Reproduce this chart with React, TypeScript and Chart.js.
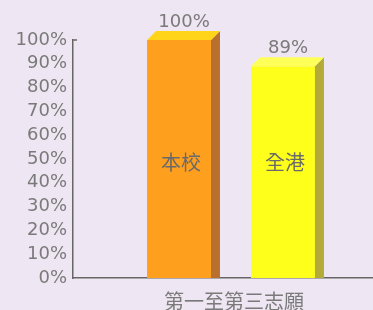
import React, { useEffect, useRef } from "react";
import { Chart, registerables } from "chart.js";

Chart.register(...registerables);

const categories = ["第一至第三志願"];
const seriesNames = ["本校", "全港"];
const seriesValues = [100, 89];
const frontColors = ["#FF9F1E", "#FFFF1C"];
const topColors = ["#FFD419", "#FFFF5A"];
const sideColors = ["#B8702C", "#B3AA38"];
const yTicks = [0, 10, 20, 30, 40, 50, 60, 70, 80, 90, 100];

const TEXT = "#7a7a7a";
const NUM_FONT = '"DejaVu Sans", sans-serif';
const CJK_FONT = '"Noto Sans CJK TC", "Noto Sans CJK SC", sans-serif';

const bar3d = {
  id: "bar3d",
  afterDatasetsDraw(chart: any) {
    const ctx = chart.ctx;
    const dx = 9;
    const dy = -9;
    ctx.save();
    chart.data.datasets.forEach((ds: any, i: number) => {
      const meta = chart.getDatasetMeta(i);
      meta.data.forEach((el: any, j: number) => {
        const { x, y, base, width } = el.getProps(["x", "y", "base", "width"], true);
        const l = x - width / 2;
        const r = x + width / 2;
        ctx.fillStyle = sideColors[i];
        ctx.beginPath();
        ctx.moveTo(r, base);
        ctx.lineTo(r, y);
        ctx.lineTo(r + dx, y + dy);
        ctx.lineTo(r + dx, base);
        ctx.closePath();
        ctx.fill();
        ctx.fillStyle = topColors[i];
        ctx.beginPath();
        ctx.moveTo(l, y);
        ctx.lineTo(l + dx, y + dy);
        ctx.lineTo(r + dx, y + dy);
        ctx.lineTo(r, y);
        ctx.closePath();
        ctx.fill();
        ctx.fillStyle = TEXT;
        ctx.font = `18px ${NUM_FONT}`;
        ctx.textAlign = "center";
        ctx.textBaseline = "alphabetic";
        ctx.fillText(ds.data[j] + "%", x + 5, y + dy - 4);
        ctx.font = `20px ${CJK_FONT}`;
        ctx.textBaseline = "middle";
        ctx.fillStyle = "#6a6a6a";
        ctx.fillText(ds.label, x + 2, 162);
      });
    });
    const ys = chart.scales.y;
    const area = chart.chartArea;
    const yTop = ys.getPixelForValue(100);
    ctx.strokeStyle = "#666";
    ctx.lineWidth = 1.5;
    ctx.beginPath();
    ctx.moveTo(area.left, yTop);
    ctx.lineTo(area.left + 4, yTop);
    ctx.stroke();
    ctx.fillStyle = TEXT;
    ctx.font = `20px ${CJK_FONT}`;
    ctx.textAlign = "center";
    ctx.textBaseline = "middle";
    ctx.fillText(categories[0], 234, 301);
    ctx.restore();
  },
};

export default function App() {
  const ref = useRef<HTMLCanvasElement | null>(null);
  useEffect(() => {
    if (!ref.current) return;
    const chart = new Chart(ref.current, {
      type: "bar",
      data: {
        labels: categories,
        datasets: seriesNames.map((name, i) => ({
          label: name,
          data: [seriesValues[i]],
          backgroundColor: frontColors[i],
          borderWidth: 0,
          categoryPercentage: 0.658,
          barPercentage: 0.615,
        })),
      },
      options: {
        animation: false,
        responsive: false,
        maintainAspectRatio: false,
        layout: { padding: { top: 40, bottom: 32, left: 0, right: 1 } },
        plugins: {
          legend: { display: false },
          tooltip: { enabled: false },
        },
        scales: {
          x: {
            grid: { display: false, drawTicks: false },
            border: { display: true, color: "#666", width: 1.5 },
            ticks: { display: false },
          },
          y: {
            min: 0,
            max: 100,
            afterFit: (s: any) => {
              s.width = 73;
            },
            afterBuildTicks: (s: any) => {
              s.ticks = yTicks.map((v) => ({ value: v }));
            },
            grid: { display: false, drawTicks: false },
            border: { display: true, color: "#666", width: 1.5 },
            ticks: {
              autoSkip: false,
              padding: 6,
              color: TEXT,
              font: { family: "DejaVu Sans", size: 18 },
              callback: (v: any) => v + "%",
            },
          },
        },
      },
      plugins: [bar3d],
    });
    return () => chart.destroy();
  }, []);
  return (
    <div
      style={{
        position: "absolute",
        left: 0,
        top: 0,
        width: 373,
        height: 310,
        overflow: "hidden",
        background: "#EEE6F2",
      }}
    >
      <canvas ref={ref} width={390} height={310} style={{ display: "block" }} />
    </div>
  );
}
